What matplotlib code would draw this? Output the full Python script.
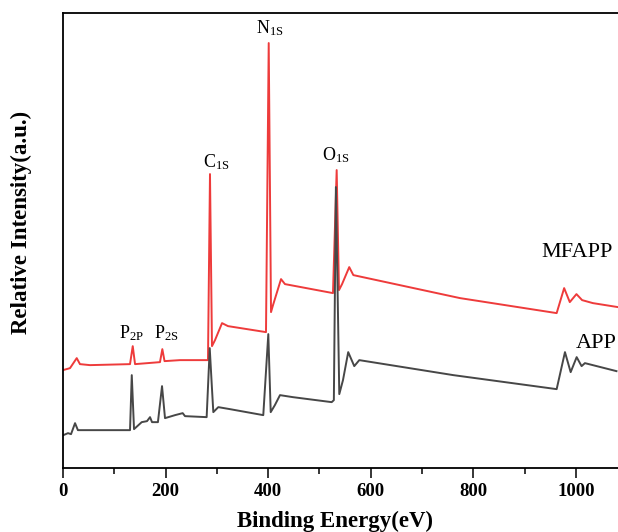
import matplotlib
matplotlib.use("Agg")
import matplotlib.pyplot as plt
from matplotlib.ticker import MultipleLocator

plt.rcParams["font.family"] = ["Liberation Serif", "DejaVu Serif"]
plt.rcParams["mathtext.default"] = "regular"

# MFAPP survey (binding energy in eV, intensity in a.u.)
mfapp_e = [0, 13.6, 26.7, 33, 52.6, 130.6, 135.9, 140.4, 189, 193.6, 197.9, 228,
           282.6, 286.5, 290.4, 296.3, 310, 321.6, 395.7, 401, 405.5, 409.4, 425,
           432.7, 526.3, 533.5, 538, 544, 558, 566, 774, 962.4, 977, 988, 1001,
           1012, 1033, 1082]
mfapp_i = [98, 100, 110, 104, 103, 104, 122, 104, 106, 119, 107, 108,
           108, 294, 122, 128, 145, 142, 136, 425, 156, 163, 189,
           184, 175, 298, 178, 184, 201, 193, 170, 155, 180, 166, 174,
           168, 165, 161]

# APP survey
app_e = [0.6, 9.7, 15.6, 23.4, 29, 52.6, 130.6, 134, 138.4, 153.4, 163.7, 169.6,
         173.5, 185, 193, 198.8, 218.3, 233.3, 237.8, 280, 286, 290, 293,
         302.7, 325.5, 390.4, 400.2, 404.9, 413, 423, 448, 523.8, 528, 532,
         538.6, 545.8, 556, 567.8, 577.6, 761, 962.4, 978.6, 989.7, 1001.4,
         1011, 1017.5, 1079]
app_i = [33, 35, 34, 45, 38, 38, 38, 93, 39, 46, 47, 51,
         46, 46, 82, 50, 53, 55, 52, 51, 120, 83, 56,
         61, 59, 53, 134, 56, 63, 73, 71, 66, 68, 281,
         74, 88, 116, 102, 108, 93, 79, 116, 96, 111,
         102, 105, 97]

peak_labels = ["$P_{2P}$", "$P_{2S}$", "$C_{1S}$", "$N_{1S}$", "$O_{1S}$"]
peak_pos = [(133, 130), (201, 130), (298, 301), (403, 435), (531, 308)]

fig = plt.figure(figsize=(6.18, 5.32), dpi=100)
ax = fig.add_axes([0.102, 0.120, 0.898, 0.8555])

ax.plot(mfapp_e, mfapp_i, color="#ee3b3b", lw=1.4)
ax.plot(app_e, app_i, color="#474747", lw=1.4)

for lab, (e, i) in zip(peak_labels, peak_pos):
    ax.text(e, i, lab, ha="center", va="baseline", fontsize=13)
ax.text(1072, 211, "MFAPP", ha="right", va="baseline", fontsize=16)
ax.text(1080, 120, "APP", ha="right", va="baseline", fontsize=16)

ax.set_xlim(0, 1082)
ax.set_ylim(0, 455)
ax.xaxis.set_major_locator(MultipleLocator(200))
ax.xaxis.set_minor_locator(MultipleLocator(100))
ax.set_yticks([])
ax.tick_params(axis="x", which="major", length=7, width=1.1, labelsize=13.5, pad=4)
ax.tick_params(axis="x", which="minor", length=4, width=1.1)
for lab in ax.get_xticklabels():
    lab.set_fontweight("bold")
ax.spines["right"].set_visible(False)
for s in ["left", "top", "bottom"]:
    ax.spines[s].set_linewidth(1.3)

ax.set_xlabel("Binding Energy(eV)", fontsize=16.5, fontweight="bold")
ax.xaxis.set_label_coords(0.49, -0.094)
ax.set_ylabel("Relative Intensity(a.u.)", fontsize=16.5, fontweight="bold")
ax.yaxis.set_label_coords(-0.056, 0.54)

fig.savefig("out.png", dpi=100)
